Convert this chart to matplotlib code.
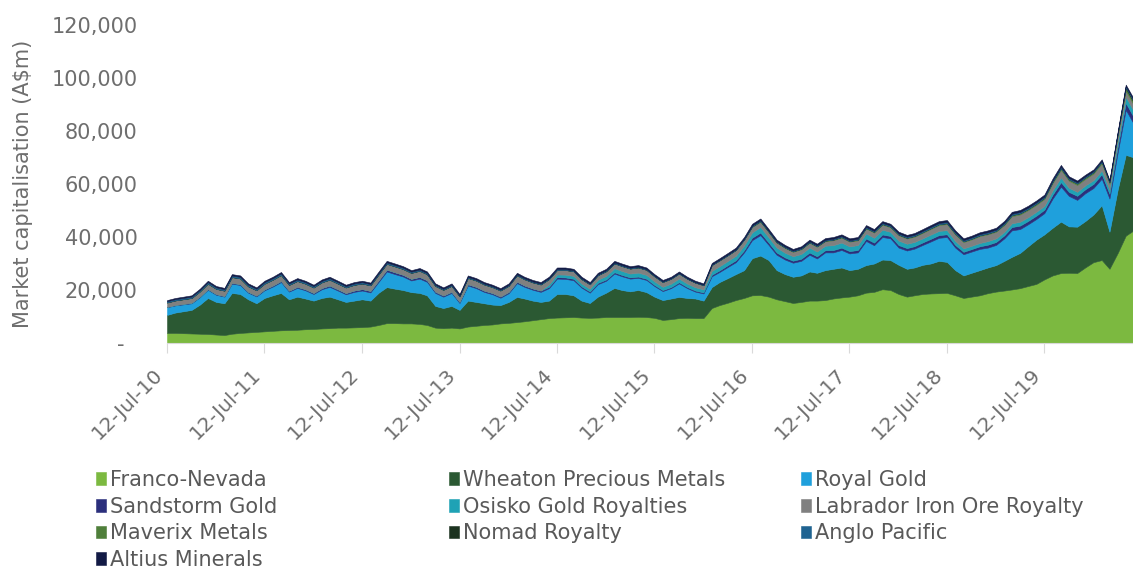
import numpy as np
import pandas as pd
import matplotlib
matplotlib.use("Agg")
import matplotlib.pyplot as plt
import matplotlib.dates as mdates
from matplotlib.ticker import FuncFormatter

plt.rcParams['font.family'] = ['DejaVu Sans']

# monthly market capitalisation, A$m, Jul-2010 .. Jun-2020 (one row = one year)
dates = pd.date_range("2010-07-12", periods=120, freq=pd.DateOffset(months=1))

franco_nevada = [
    3800, 3800, 3700, 3600, 3500, 3400, 3200, 3000, 3500, 3800, 4000, 4200,
    4400, 4600, 4800, 4900, 5000, 5200, 5300, 5500, 5600, 5800, 5800, 5900,
    6000, 6200, 6800, 7500, 7500, 7400, 7400, 7200, 6800, 5800, 5600, 5800,
    5500, 6200, 6500, 6800, 7000, 7400, 7600, 7900, 8200, 8600, 9000, 9400,
    9600, 9700, 9800, 9600, 9500, 9600, 9800, 9800, 9800, 9800, 9900, 9800,
    9500, 8700, 9000, 9400, 9500, 9400, 9400, 13200, 14300, 15200, 16200, 17000,
    18000, 18100, 17500, 16500, 15800, 15100, 15500, 16000, 16000, 16200, 16800, 17200,
    17500, 18000, 19000, 19300, 20300, 20000, 18500, 17500, 18000, 18500, 18700, 18800,
    18900, 18000, 17000, 17500, 18000, 18800, 19400, 19800, 20200, 20700, 21500, 22300,
    24000, 25500, 26400, 26500, 26400, 28500, 30500, 31300, 28000, 34000, 40500, 42600,
]
wheaton = [
    6800, 7700, 8300, 8900, 11000, 13600, 12300, 12000, 15400, 14700, 12500, 10800,
    12600, 13400, 14100, 11600, 12500, 11600, 10700, 11500, 11900, 10700, 9700, 10100,
    10500, 9800, 12200, 13600, 13000, 12600, 11800, 11700, 11200, 8200, 7600, 8200,
    7000, 9800, 9000, 8200, 7500, 6900, 7900, 9500, 8600, 7400, 6500, 6600,
    8900, 8800, 8200, 6400, 5600, 7900, 9200, 11000, 10200, 9700, 10100, 9400,
    8000, 7500, 7800, 8000, 7500, 7400, 6600, 7900, 8700, 9300, 9800, 10500,
    14000, 14900, 13800, 11000, 10200, 9900, 10000, 11000, 10500, 11300, 11200, 11300,
    10000, 10000, 10400, 10700, 11200, 11300, 11000, 10500, 10500, 11000, 11300, 12200,
    11700, 9500, 8500, 9000, 9500, 9700, 10000, 11200, 12300, 13300, 15000, 16700,
    17000, 18000, 19400, 17500, 17500, 17500, 18000, 20700, 14000, 24000, 30500, 27400,
]
royal_gold = [
    2900, 2700, 2600, 2500, 2800, 3100, 2700, 2500, 3500, 3400, 2500, 2600,
    2900, 3300, 4100, 2900, 3300, 3100, 2500, 3300, 3700, 3300, 2900, 3300,
    3300, 3100, 4100, 5900, 5500, 5100, 4400, 5400, 5100, 4900, 4300, 4900,
    2600, 5700, 5200, 4300, 3900, 2800, 3300, 5200, 4400, 4100, 3800, 4700,
    5800, 5700, 5700, 4900, 3900, 4700, 4500, 5400, 5200, 4800, 4600, 4600,
    4000, 3400, 3900, 5100, 3700, 2600, 2700, 4100, 3800, 4200, 4500, 6700,
    6800, 7700, 5700, 5800, 5500, 5300, 5500, 6300, 5400, 6700, 6200, 6600,
    6300, 6200, 9100, 6900, 8500, 8200, 6500, 6900, 7100, 7500, 8300, 8700,
    9400, 8500, 8000, 8000, 8000, 7500, 7600, 8500, 10000, 9000, 8300, 7800,
    8000, 11000, 13200, 11500, 10100, 10500, 10000, 10000, 12500, 14000, 17000, 12500,
]
sandstorm = [
    150, 170, 190, 210, 240, 270, 260, 260, 320, 330, 320, 300,
    360, 400, 430, 380, 420, 430, 420, 480, 520, 500, 480, 520,
    560, 580, 650, 720, 700, 660, 640, 660, 620, 500, 460, 470,
    440, 520, 520, 500, 480, 470, 500, 560, 540, 520, 510, 540,
    560, 560, 540, 470, 440, 480, 460, 500, 490, 460, 470, 450,
    420, 380, 400, 440, 420, 400, 380, 560, 620, 680, 720, 800,
    950, 980, 900, 830, 790, 760, 800, 850, 830, 820, 880, 900,
    880, 900, 940, 980, 960, 900, 950, 920, 930, 960, 1000, 1020,
    1030, 1000, 920, 940, 1000, 1100, 1120, 1150, 1250, 1320, 1260, 1280,
    1300, 1500, 1700, 1500, 1550, 1500, 1550, 1700, 1800, 2200, 2600, 2550,
]
osisko = [0] * 47 + [
    900,
    1000, 1050, 1100, 1080, 1050, 1200, 1350, 1500, 1520, 1450, 1500, 1450,
    1350, 1250, 1300, 1400, 1300, 1250, 1150, 1450, 1550, 1600, 1700, 1800,
    2000, 2100, 2000, 1900, 1800, 1700, 1800, 1850, 1800, 1700, 1850, 1900,
    1800, 1850, 1900, 1850, 1800, 1550, 1700, 1650, 1600, 1550, 1600, 1600,
    1550, 1500, 1300, 1250, 1250, 1350, 1350, 1300, 1400, 1450, 1400, 1450,
    1450, 1600, 1750, 1550, 1500, 1450, 1400, 1400, 1600, 1900, 2300, 2300,
]
labrador = [
    1650, 1710, 1760, 1810, 1940, 2070, 2000, 2010, 2180, 2160, 2090, 2030,
    2150, 2200, 2250, 2160, 2200, 2110, 2050, 2160, 2200, 2150, 2110, 2150,
    2110, 2100, 2200, 2200, 2230, 2190, 2240, 2320, 2280, 2160, 2130, 2220,
    2090, 2360, 2370, 2310, 2240, 2260, 2310, 2420, 2350, 2290, 2300, 2000,
    1720, 1770, 1760, 1680, 1660, 1740, 1790, 1870, 1870, 1900, 1960, 1950,
    1920, 1820, 1860, 1900, 1850, 1750, 1610, 2230, 2230, 2190, 2210, 2280,
    2010, 1960, 1890, 1800, 1770, 1630, 1750, 1810, 1770, 1700, 1850, 1860,
    1770, 1770, 1850, 1940, 1890, 1740, 2000, 1970, 1970, 2040, 2110, 2180,
    2310, 2500, 2370, 2400, 2600, 2560, 2520, 2590, 2720, 2740, 2690, 2610,
    2590, 2750, 2920, 2670, 2600, 2430, 2470, 2680, 2170, 2220, 2280, 2290,
]
maverix = [0] * 72 + [
    250, 260, 240, 230, 220, 210, 220, 230, 230, 220, 230, 240,
    240, 250, 260, 270, 280, 270, 280, 280, 300, 320, 330, 340,
    340, 330, 300, 300, 310, 330, 340, 380, 420, 460, 450, 470,
    480, 550, 620, 560, 560, 560, 580, 600, 650, 800, 950, 900,
]
nomad = [0] * 118 + [400, 450]
anglo_pacific = [
    450, 460, 480, 500, 520, 540, 530, 520, 560, 560, 550, 540,
    550, 550, 560, 520, 530, 520, 500, 510, 520, 500, 470, 480,
    470, 460, 470, 480, 470, 460, 440, 430, 420, 380, 360, 350,
    330, 340, 330, 320, 310, 300, 310, 320, 310, 300, 300, 300,
    300, 300, 290, 280, 270, 280, 280, 290, 280, 270, 260, 250,
    230, 210, 200, 200, 190, 180, 160, 200, 220, 230, 250, 270,
    290, 300, 290, 280, 280, 280, 290, 300, 310, 310, 320, 320,
    330, 340, 350, 360, 370, 380, 390, 400, 420, 430, 440, 440,
    450, 450, 430, 430, 440, 440, 450, 450, 460, 470, 460, 450,
    440, 440, 430, 420, 410, 400, 380, 360, 300, 330, 350, 360,
]
altius = [
    450, 460, 470, 480, 500, 520, 510, 510, 540, 550, 540, 530,
    540, 550, 560, 540, 550, 540, 530, 550, 560, 550, 540, 550,
    560, 560, 580, 600, 600, 590, 580, 590, 580, 560, 550, 560,
    540, 580, 580, 570, 570, 570, 580, 600, 600, 590, 590, 600,
    620, 620, 610, 590, 580, 600, 620, 640, 640, 620, 610, 600,
    580, 540, 540, 560, 540, 520, 500, 560, 580, 600, 620, 650,
    700, 700, 680, 660, 640, 620, 640, 660, 660, 650, 670, 680,
    680, 690, 700, 700, 700, 660, 680, 680, 680, 700, 720, 720,
    720, 720, 680, 680, 700, 720, 720, 730, 750, 760, 740, 740,
    740, 760, 780, 700, 680, 660, 620, 560, 480, 550, 620, 650,
]

companies = ["Franco-Nevada", "Wheaton Precious Metals", "Royal Gold",
             "Sandstorm Gold", "Osisko Gold Royalties", "Labrador Iron Ore Royalty",
             "Maverix Metals", "Nomad Royalty", "Anglo Pacific", "Altius Minerals"]
series = [franco_nevada, wheaton, royal_gold, sandstorm, osisko, labrador,
          maverix, nomad, anglo_pacific, altius]
colors = ["#7cb940", "#2b5933", "#1fa0dc", "#2b2f7c", "#1fa2b5", "#808080",
          "#4f7f3a", "#1c3320", "#1f6391", "#121a45"]

fig = plt.figure(figsize=(11.33, 5.68), dpi=100)
ax = fig.add_axes([0.1474, 0.3961, 0.8535, 0.5599])

polys = ax.stackplot(dates, np.array(series), colors=colors, labels=companies,
                     edgecolor='face', linewidth=0.4)

ax.set_xlim(dates[0], dates[-1])
ax.set_ylim(0, 120000)
ax.set_yticks(np.arange(0, 120001, 20000))
ax.yaxis.set_major_formatter(FuncFormatter(lambda v, p: "-  " if v == 0 else f"{v:,.0f}"))
ax.xaxis.set_major_locator(mdates.YearLocator(1, month=7, day=12))
ax.xaxis.set_major_formatter(mdates.DateFormatter("%d-%b-%y"))

for s in ["top", "right", "left"]:
    ax.spines[s].set_visible(False)
ax.spines["bottom"].set_color("#d9d9d9")
ax.tick_params(axis="y", length=0, pad=21, labelsize=15, labelcolor="#6e6e6e")
ax.tick_params(axis="x", length=7, width=0.8, color="#d9d9d9", pad=9,
               labelsize=14.5, labelcolor="#6e6e6e")
for lbl in ax.get_xticklabels():
    lbl.set_rotation(45)
    lbl.set_ha("right")

ax.set_ylabel(r"Market capitalisation (A\$m)", fontsize=15, color="#6e6e6e")
ax.yaxis.set_label_coords(-0.139, 0.5)

# legend laid out row by row in three columns
col_items = [[0, 3, 6, 9], [1, 4, 7], [2, 5, 8]]
col_x = [96, 449, 801]
for items, x in zip(col_items, col_x):
    fig.legend([polys[i] for i in items], [companies[i] for i in items],
               loc="upper left", bbox_to_anchor=(x / 1133, 1 - 470 / 568),
               frameon=False, fontsize=15, labelcolor="#595959",
               handlelength=0.5, handleheight=0.55, handletextpad=0.15,
               labelspacing=0.32, borderpad=0, borderaxespad=0)

fig.savefig("out.png", dpi=100)
